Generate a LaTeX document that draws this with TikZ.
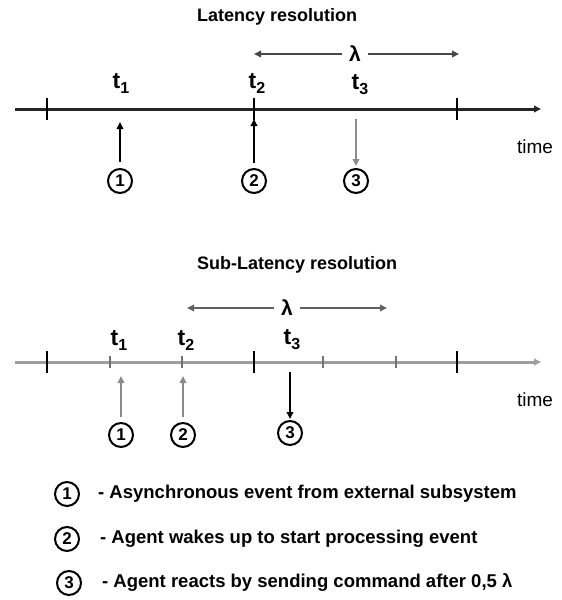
\documentclass[tikz,border=0pt]{standalone}
\usepackage{fontspec}
\setmainfont{Liberation Sans}
\usetikzlibrary{arrows.meta}
\newcommand\tsubs[1]{t\raisebox{-5pt}{\fontsize{16}{16}\selectfont #1}}
\begin{document}
\begin{tikzpicture}[x=1pt,y=-1pt,
  ttl/.style={font=\bfseries\fontsize{18}{20}\selectfont, anchor=west, inner sep=0pt},
  tlab/.style={font=\bfseries\fontsize{23}{24}\selectfont, inner sep=0pt},
  lam/.style={font=\bfseries\fontsize{21}{22}\selectfont, inner xsep=7pt, inner ysep=0pt},
  timelab/.style={font=\fontsize{19}{20}\selectfont, inner sep=0pt},
  num/.style={circle, draw, line width=2pt, minimum size=24pt, inner sep=0pt,
    font=\bfseries\fontsize{17}{17}\selectfont},
  legtxt/.style={font=\bfseries\fontsize{18.5}{20}\selectfont, anchor=west, inner sep=0pt},
  tip/.style={-{Triangle[length=7pt,width=6.5pt]}},
  axisT/.style={tip, line width=3pt, draw=black!85},
  axisB/.style={tip, line width=3pt, draw=black!38},
  majtick/.style={line width=2.2pt, draw=black},
  mintick/.style={line width=1.3pt, draw=black!55},
  lamT/.style={tip, line width=2.8pt, draw=black!72},
  lamB/.style={tip, line width=2.4pt, draw=black!62},
  evdark/.style={tip, line width=2.2pt, draw=black},
  evgray/.style={tip, line width=2.2pt, draw=black!45},
]
\useasboundingbox (0,0) rectangle (562,600);

% ---------- top diagram ----------
\node[ttl] (title1) at (197,17) {Latency resolution};
\coordinate (ax1s) at (15,109);
\coordinate (ax1e) at (541,109);
\draw[axisT] (ax1s) -- (ax1e);
\foreach \x in {47,254,457} \draw[majtick] (\x,98) -- (\x,120);

\node[lam] (lam1) at (355,54) {λ};
\coordinate (lam1L) at (254,54);
\coordinate (lam1R) at (459,54);
\draw[lamT] (lam1) -- (lam1L);
\draw[lamT] (lam1) -- (lam1R);

\node[tlab] (t1a) at (121,83) {\tsubs{1}};
\node[tlab] (t2a) at (257,83) {\tsubs{2}};
\node[tlab] (t3a) at (360,85) {\tsubs{3}};

\node[num] (c1a) at (120,181) {1};
\node[num] (c2a) at (254,181) {2};
\node[num] (c3a) at (356,181) {3};
\coordinate (p1a) at (120,122);
\coordinate (p2a) at (254,119);
\coordinate (p3a) at (356,119);
\draw[evdark, shorten <=6pt] (c1a.north) -- (p1a);
\draw[evdark, shorten <=5pt] (c2a.north) -- (p2a);
\draw[evgray, shorten >=2pt] (p3a) -- (c3a.north);

\node[timelab] (time1) at (535,147) {time};

% ---------- bottom diagram ----------
\node[ttl] (title2) at (197,265) {Sub-Latency resolution};
\coordinate (ax2s) at (15,362);
\coordinate (ax2e) at (541,362);
\draw[axisB] (ax2s) -- (ax2e);
\foreach \x in {47,254,457} \draw[majtick] (\x,351) -- (\x,373);
\foreach \x in {110,182,323,396} \draw[mintick] (\x,356) -- (\x,368);

\node[lam] (lam2) at (287,308) {λ};
\coordinate (lam2L) at (187,308);
\coordinate (lam2R) at (387,308);
\draw[lamB] (lam2) -- (lam2L);
\draw[lamB] (lam2) -- (lam2R);

\node[tlab] (t1b) at (119,340) {\tsubs{1}};
\node[tlab] (t2b) at (186,340) {\tsubs{2}};
\node[tlab] (t3b) at (292,340) {\tsubs{3}};

\node[num] (c1b) at (121,435) {1};
\node[num] (c2b) at (183,435) {2};
\node[num] (c3b) at (290,433) {3};
\coordinate (p1b) at (121,376);
\coordinate (p2b) at (183,376);
\coordinate (p3b) at (290,372);
\draw[evgray, shorten <=5pt] (c1b.north) -- (p1b);
\draw[evgray, shorten <=5pt] (c2b.north) -- (p2b);
\draw[evdark, shorten >=1pt] (p3b) -- (c3b.north);

\node[timelab] (time2) at (535,400) {time};

% ---------- legend ----------
\node[num] (l1) at (67,494) {1};
\node[num] (l2) at (67,539) {2};
\node[num] (l3) at (69,583) {3};
\node[legtxt] (lt1) at (98,494) {- Asynchronous event from external subsystem};
\node[legtxt] (lt2) at (100,539) {- Agent wakes up to start processing event};
\node[legtxt] (lt3) at (102,583) {- Agent reacts by sending command after 0,5 λ};
\end{tikzpicture}
\end{document}
